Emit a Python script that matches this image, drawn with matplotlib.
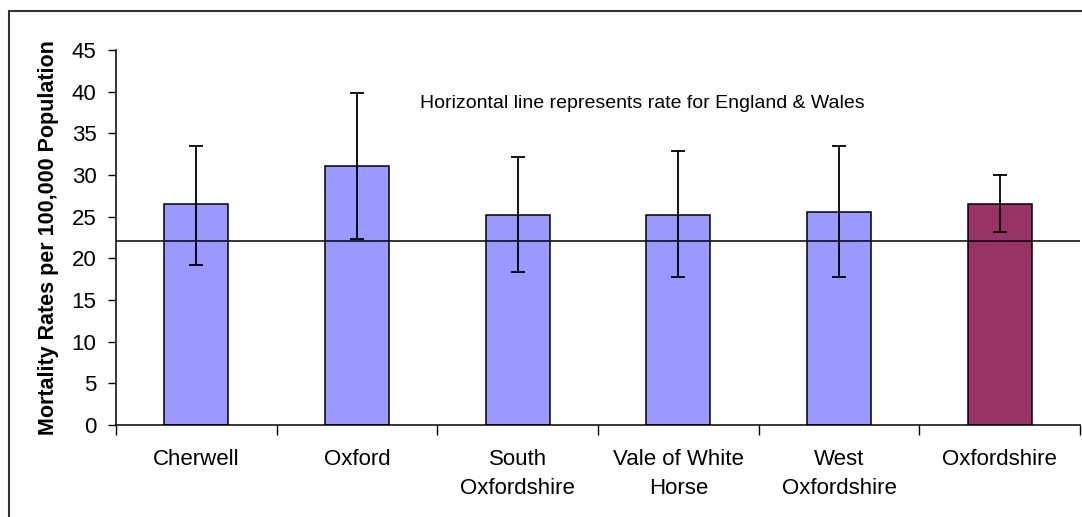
import numpy as np
import matplotlib
matplotlib.use("Agg")
import matplotlib.pyplot as plt
from matplotlib.patches import Rectangle

plt.rcParams["font.family"] = ["Liberation Sans", "DejaVu Sans"]

# ---- data
districts = ["Cherwell", "Oxford", "South\nOxfordshire", "Vale of White\nHorse",
             "West\nOxfordshire", "Oxfordshire"]
rates = [26.5, 31.1, 25.2, 25.2, 25.6, 26.5]
ci_upper = [33.5, 39.8, 32.2, 32.9, 33.5, 30.0]
ci_lower = [19.2, 22.3, 18.4, 17.8, 17.8, 23.2]
england_wales_rate = 22.1
bar_colors = ["#9999FF"] * 5 + ["#993366"]

# ---- figure
fig = plt.figure(figsize=(10.82, 5.17), dpi=100)
ax = fig.add_axes([116 / 1082, 1 - 425 / 517, (1080 - 116) / 1082, (425 - 50) / 517])

x = np.arange(len(districts))
rates_a = np.array(rates)
yerr = [rates_a - np.array(ci_lower), np.array(ci_upper) - rates_a]

ax.bar(x, rates, width=0.4, color=bar_colors, edgecolor="black", linewidth=1.1, zorder=2)
ax.axhline(england_wales_rate, color="black", linewidth=1.1, zorder=3)
ax.errorbar(x, rates, yerr=yerr, fmt="none", ecolor="black", elinewidth=1.3,
            capsize=5, capthick=1.3, zorder=4)

ax.set_xlim(-0.5, len(districts) - 0.5)
ax.set_ylim(0, 45)
ax.set_yticks(np.arange(0, 46, 5))

# category labels centred, ticks on the boundaries
ax.set_xticks(x)
ax.set_xticklabels(districts, fontsize=16, linespacing=1.5, va="top")
ax.set_xticks(np.arange(-0.5, len(districts), 1.0), minor=True)
ax.tick_params(axis="x", which="major", length=0, pad=17)
ax.tick_params(axis="x", which="minor", length=7, width=1, direction="out")
ax.tick_params(axis="y", length=6, width=1, direction="out", labelsize=16, pad=8)

for side in ("top", "right"):
    ax.spines[side].set_visible(False)
for side in ("left", "bottom"):
    ax.spines[side].set_linewidth(1.1)

ax.set_ylabel("Mortality Rates per 100,000 Population", fontsize=15.5, fontweight="bold",
              labelpad=9)

ax.text((642 - 116) / 964, (425 - 104) / 375,
        "Horizontal line represents rate for England & Wales",
        transform=ax.transAxes, fontsize=14, va="center", ha="center")

# chart frame (cropped at the right and bottom in the reference)
fig.patches.append(Rectangle((9 / 1082, -0.1), 1.2, 1 - 11 / 517 + 0.1,
                             transform=fig.transFigure, fill=False,
                             edgecolor="#333333", linewidth=1.5))

fig.savefig("out.png", dpi=100)
